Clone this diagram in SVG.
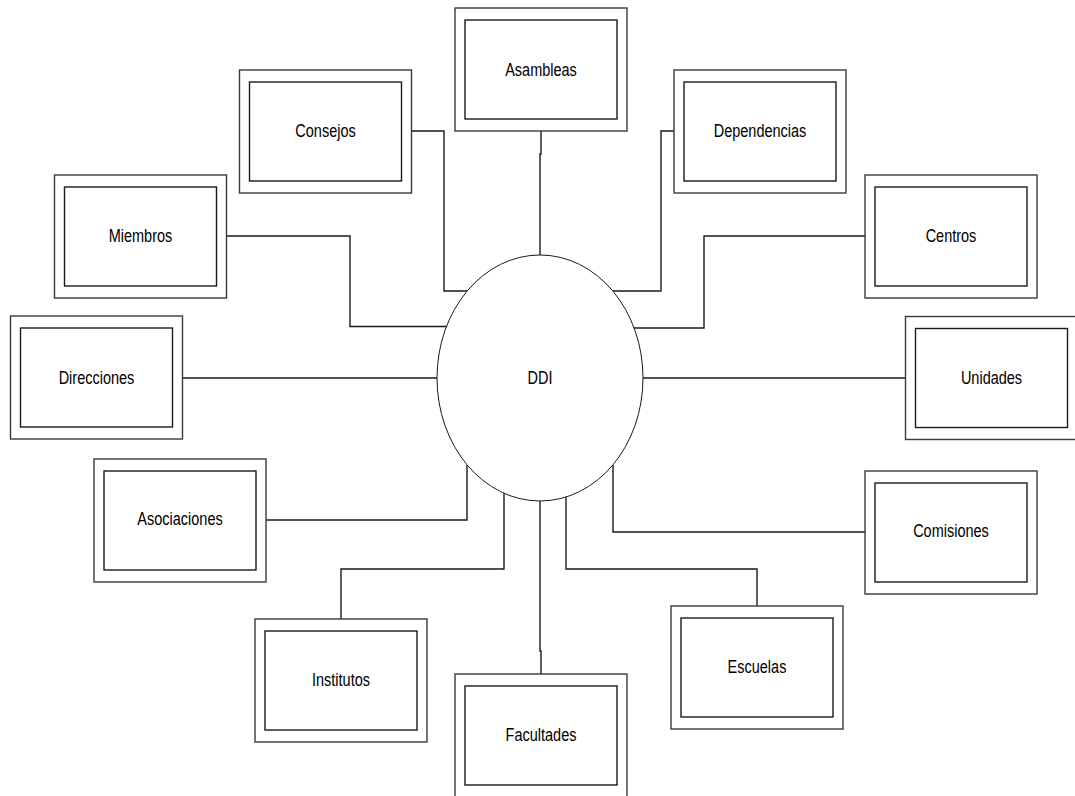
<svg xmlns="http://www.w3.org/2000/svg" width="1075" height="796" viewBox="0 0 1075 796">
  <style>
    .outer { fill: #ffffff; stroke: #3a3a3a; stroke-width: 1.4; }
    .inner { fill: #ffffff; stroke: #1a1a1a; stroke-width: 1.4; }
    .hub { fill: #ffffff; stroke: #1a1a1a; stroke-width: 1; }
    .label { font-family: "Liberation Sans", Arial, sans-serif; font-size: 14.5px; fill: #000000; text-anchor: middle; }
    .link { fill: none; stroke: #1a1a1a; stroke-width: 1.4; }
  </style>
  <defs>
    <!-- double-framed entity box: 172 x 123 outer, 152 x 99 inner -->
    <g id="box">
      <rect class="outer" x="0" y="0" width="172" height="123"/>
      <rect class="inner" x="10" y="12" width="152" height="99"/>
    </g>
  </defs>
  <rect x="0" y="0" width="1075" height="796" fill="#ffffff"/>

  <!-- connectors from the central hub to each entity -->
  <g id="connectors">
    <polyline class="link" points="541,131 541,154 540,154 540,255"/>
    <polyline class="link" points="412,131 444,131 444,291 467,291"/>
    <polyline class="link" points="674,131 661,131 661,291 613,291"/>
    <polyline class="link" points="227,236 350,236 350,326.5 447,326.5"/>
    <polyline class="link" points="865,236 704,236 704,328 633,328"/>
    <polyline class="link" points="183,378 437,378"/>
    <polyline class="link" points="643,378 905.5,378"/>
    <polyline class="link" points="266,520 467,520 467,465"/>
    <polyline class="link" points="865,532 613,532 613,465"/>
    <polyline class="link" points="341,619 341,569 504,569 504,493"/>
    <polyline class="link" points="757,606 757,569 566,569 566,497"/>
    <polyline class="link" points="540,501 540,651 541,651 541,674"/>
  </g>

  <!-- labels use a slightly tall glyph proportion (vertical scale 1.22) -->
  <g id="ddi">
    <ellipse class="hub" cx="540" cy="378" rx="103" ry="123"/>
    <text class="label" transform="translate(540,384) scale(1,1.22)">DDI</text>
  </g>

  <g id="asambleas">
    <use href="#box" x="455" y="8"/>
    <text class="label" transform="translate(541,76) scale(1,1.22)">Asambleas</text>
  </g>
  <g id="consejos">
    <use href="#box" x="239.5" y="70"/>
    <text class="label" transform="translate(325.5,137) scale(1,1.22)">Consejos</text>
  </g>
  <g id="dependencias">
    <use href="#box" x="674" y="70"/>
    <text class="label" transform="translate(760,137) scale(1,1.22)">Dependencias</text>
  </g>
  <g id="miembros">
    <use href="#box" x="54.5" y="175"/>
    <text class="label" transform="translate(140.5,242) scale(1,1.22)">Miembros</text>
  </g>
  <g id="centros">
    <use href="#box" x="865" y="175"/>
    <text class="label" transform="translate(951,242) scale(1,1.22)">Centros</text>
  </g>
  <g id="direcciones">
    <use href="#box" x="10.5" y="316"/>
    <text class="label" transform="translate(96.5,384) scale(1,1.22)">Direcciones</text>
  </g>
  <g id="unidades">
    <use href="#box" x="905.5" y="316.5"/>
    <text class="label" transform="translate(991.5,384) scale(1,1.22)">Unidades</text>
  </g>
  <g id="asociaciones">
    <use href="#box" x="94" y="459"/>
    <text class="label" transform="translate(180,525) scale(1,1.22)">Asociaciones</text>
  </g>
  <g id="comisiones">
    <use href="#box" x="865" y="471"/>
    <text class="label" transform="translate(951,537) scale(1,1.22)">Comisiones</text>
  </g>
  <g id="institutos">
    <use href="#box" x="255" y="619"/>
    <text class="label" transform="translate(341,686) scale(1,1.22)">Institutos</text>
  </g>
  <g id="escuelas">
    <use href="#box" x="671" y="606"/>
    <text class="label" transform="translate(757,673) scale(1,1.22)">Escuelas</text>
  </g>
  <g id="facultades">
    <use href="#box" x="455" y="674"/>
    <text class="label" transform="translate(541,741) scale(1,1.22)">Facultades</text>
  </g>
</svg>
